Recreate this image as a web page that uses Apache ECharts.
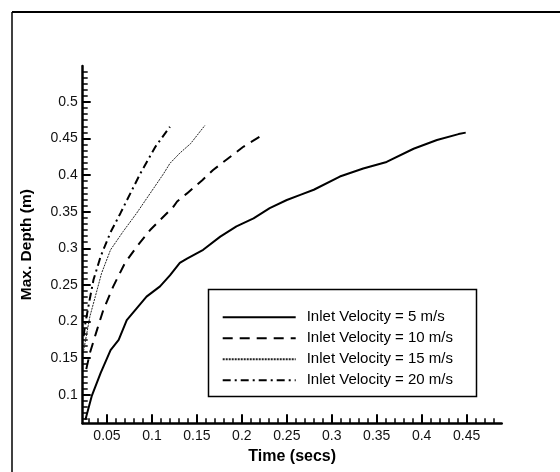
<!DOCTYPE html>
<html>
<head>
<meta charset="utf-8">
<script src="https://cdn.jsdelivr.net/npm/echarts@6/dist/echarts.min.js"></script>
<style>
html,body{margin:0;padding:0;background:#fff;}
#c{width:560px;height:472px;}
</style>
</head>
<body>
<div id="c"></div>
<script>
// ---- data ----
const seriesNames = ['Inlet Velocity = 5 m/s','Inlet Velocity = 10 m/s','Inlet Velocity = 15 m/s','Inlet Velocity = 20 m/s'];
const t5  = [0.026,0.033,0.043,0.054,0.063,0.072,0.083,0.094,0.109,0.120,0.131,0.139,0.157,0.176,0.194,0.213,0.231,0.250,0.265,0.280,0.309,0.335,0.361,0.391,0.417,0.441,0.449];
const d5  = [0.066,0.098,0.130,0.161,0.175,0.202,0.218,0.234,0.248,0.263,0.280,0.286,0.298,0.316,0.330,0.341,0.355,0.366,0.373,0.380,0.398,0.409,0.418,0.436,0.448,0.456,0.458];
const t10 = [0.027,0.031,0.039,0.046,0.057,0.070,0.083,0.098,0.124,0.128,0.139,0.156,0.168,0.185,0.202,0.226];
const d10 = [0.135,0.157,0.189,0.216,0.248,0.280,0.302,0.325,0.357,0.364,0.375,0.393,0.407,0.423,0.439,0.457];
const t15 = [0.024,0.031,0.037,0.044,0.054,0.068,0.083,0.098,0.113,0.120,0.131,0.143,0.159];
const d15 = [0.160,0.207,0.234,0.266,0.298,0.323,0.348,0.375,0.402,0.416,0.430,0.443,0.468];
const t20 = [0.024,0.026,0.030,0.035,0.043,0.054,0.065,0.076,0.087,0.104,0.120];
const d20 = [0.180,0.198,0.225,0.257,0.289,0.322,0.348,0.375,0.402,0.439,0.466];
const xMajor = [0.05,0.1,0.15,0.2,0.25,0.3,0.35,0.4,0.45];
const yMajor = [0.1,0.15,0.2,0.25,0.3,0.35,0.4,0.45,0.5];
const xMinor = [0.03,0.04,0.06,0.07,0.08,0.09,0.11,0.12,0.13,0.14,0.16,0.17,0.18,0.19,0.21,0.22,0.23,0.24,0.26,0.27,0.28,0.29,0.31,0.32,0.33,0.34,0.36,0.37,0.38,0.39,0.41,0.42,0.43,0.44,0.46,0.47,0.48];
const yMinorPerMajor = 5;
const xRange = [0.023, 0.489];
const yRange = [0.061, 0.549];

// minor y ticks: 5 between each pair of labelled ticks
const yMinor = [];
for (let m = 0.05; m <= 0.5 + 1e-9; m += 0.05) {
  for (let j = 1; j <= yMinorPerMajor; j++) {
    const v = m + j * 0.05 / (yMinorPerMajor + 1);
    if (v > yRange[0] && v < yRange[1]) yMinor.push(+v.toFixed(5));
  }
}

const zip = (a,b) => a.map((v,i) => [v,b[i]]);
const fmt = v => String(parseFloat((+v).toFixed(3)));
const FONT = 'Liberation Sans, Arial, Helvetica, sans-serif';

const chart = echarts.init(document.getElementById('c'), null, {renderer:'canvas'});
const lineStyles = [
  {color:'#000', width:2, type:'solid'},
  {color:'#000', width:2, type:[10,7]},
  {color:'#222', width:1, type:[2,1]},
  {color:'#000', width:2, type:[8,4,2,4]}
];
const datas = [zip(t5,d5), zip(t10,d10), zip(t15,d15), zip(t20,d20)];

const baseX = {
  type:'value', min:xRange[0], max:xRange[1], position:'bottom',
  splitLine:{show:false}
};
const baseY = {
  type:'value', min:yRange[0], max:yRange[1], position:'left',
  splitLine:{show:false}
};

chart.setOption({
  animation:false,
  backgroundColor:'#fff',
  grid:{left:82.7, top:66, right:58.3, bottom:48.7, containLabel:false, outerBoundsMode:'none'},
  xAxis:[
    Object.assign({}, baseX, {
      name:'Time (secs)', nameLocation:'middle', nameGap:24,
      nameTextStyle:{fontFamily:FONT, fontSize:16, fontWeight:'bold', color:'#000'},
      axisLine:{show:true, lineStyle:{color:'#000', width:2.5}},
      axisTick:{show:true, inside:true, length:9, lineStyle:{color:'#000', width:2}, customValues:xMajor},
      axisLabel:{show:true, margin:6, customValues:xMajor, formatter:fmt,
        fontFamily:FONT, fontSize:14, color:'#111'}
    }),
    Object.assign({}, baseX, {
      axisLine:{show:false},
      axisTick:{show:true, inside:true, length:5, lineStyle:{color:'#000', width:1.5}, customValues:xMinor},
      axisLabel:{show:false}
    })
  ],
  yAxis:[
    Object.assign({}, baseY, {
      name:'Max. Depth (m)', nameLocation:'middle', nameGap:48, nameRotate:90,
      nameTextStyle:{fontFamily:FONT, fontSize:15.5, fontWeight:'bold', color:'#000'},
      axisLine:{show:true, lineStyle:{color:'#000', width:2.5}},
      axisTick:{show:true, inside:true, length:8, lineStyle:{color:'#000', width:2}, customValues:yMajor},
      axisLabel:{show:true, margin:5, customValues:yMajor, formatter:fmt,
        fontFamily:FONT, fontSize:14, color:'#111'}
    }),
    Object.assign({}, baseY, {
      axisLine:{show:false},
      axisTick:{show:true, inside:true, length:5, lineStyle:{color:'#000', width:1.5}, customValues:yMinor},
      axisLabel:{show:false}
    })
  ],
  legend:{
    left:221.7, top:309.7, orient:'vertical', padding:0,
    itemWidth:73, itemHeight:14, itemGap:6,
    data:seriesNames,
    itemStyle:{opacity:0},
    textStyle:{fontFamily:FONT, fontSize:15, color:'#000', padding:[0,0,0,6]}
  },
  graphic:[
    {type:'rect', shape:{x:208.5, y:289.5, width:268, height:107}, style:{fill:'none', stroke:'#000', lineWidth:1.5}, z:-1},
    {type:'line', shape:{x1:12, y1:12, x2:560, y2:12}, style:{stroke:'#000', lineWidth:2}},
    {type:'line', shape:{x1:12, y1:12, x2:12, y2:472}, style:{stroke:'#000', lineWidth:1.5}}
  ],
  series: datas.map((d,i) => ({
    name:seriesNames[i], type:'line', data:d, symbol:'none', smooth:false,
    xAxisIndex:0, yAxisIndex:0,
    lineStyle:lineStyles[i], itemStyle:{color:'#000'}
  }))
});
</script>
</body>
</html>
